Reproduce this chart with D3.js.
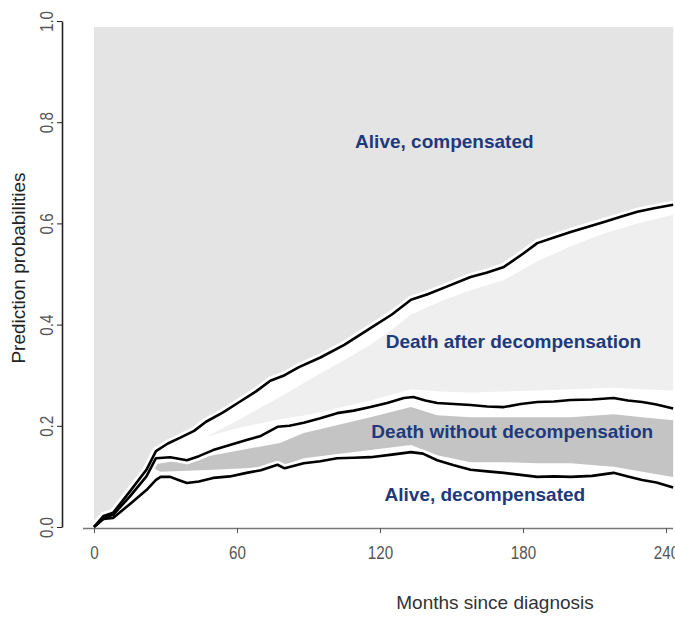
<!DOCTYPE html>
<html><head><meta charset="utf-8">
<script src="https://cdn.jsdelivr.net/npm/d3@7"></script>
<style>body{margin:0;background:#fff} svg{display:block}</style>
</head><body>
<script>
// ---- data (months since diagnosis, probability) ----
const xTicks = [0, 60, 120, 180, 240];
const yTicks = [0, 0.2, 0.4, 0.6, 0.8, 1.0];
const areaTop = 0.988;
const areaEnd = 243;

const upperLine = [[0,0],[4,0.022],[8,0.028],[15,0.07],[22,0.113],[26,0.15],[31,0.165],[36,0.176],[42,0.19],[47,0.208],[54,0.226],[61,0.247],[68,0.268],[74,0.289],[80,0.3],[86,0.316],[95,0.335],[105,0.36],[116,0.393],[125,0.42],[133,0.449],[140,0.46],[148,0.475],[158,0.494],[165,0.503],[172,0.514],[180,0.54],[186,0.561],[193,0.572],[200,0.583],[207,0.593],[214,0.603],[221,0.613],[228,0.623],[235,0.63],[243,0.637]];
const middleLine = [[0,0],[4,0.018],[8,0.024],[15,0.06],[22,0.1],[26,0.136],[32,0.138],[39,0.132],[44,0.14],[50,0.152],[57,0.162],[64,0.172],[70,0.18],[77,0.198],[82,0.2],[88,0.206],[95,0.215],[102,0.225],[109,0.23],[116,0.237],[123,0.245],[130,0.255],[134,0.257],[139,0.25],[144,0.245],[151,0.243],[158,0.241],[165,0.238],[172,0.237],[179,0.243],[186,0.247],[193,0.248],[200,0.251],[209,0.252],[218,0.255],[224,0.25],[230,0.247],[236,0.242],[243,0.234]];
const lowerLine = [[0,0],[4,0.016],[8,0.018],[15,0.045],[22,0.073],[26,0.093],[28,0.099],[32,0.099],[36,0.092],[39,0.087],[44,0.09],[50,0.097],[57,0.1],[64,0.107],[70,0.112],[77,0.123],[80,0.116],[88,0.126],[95,0.13],[102,0.136],[109,0.137],[116,0.138],[125,0.143],[133,0.148],[138,0.145],[144,0.132],[151,0.122],[158,0.113],[165,0.11],[172,0.107],[179,0.103],[186,0.099],[193,0.1],[200,0.099],[209,0.101],[218,0.107],[224,0.1],[230,0.093],[236,0.088],[243,0.078]];

const deathAfterUpper = [[47,0.178],[60,0.21],[78,0.257],[90,0.29],[105,0.33],[116,0.36],[125,0.39],[133,0.42],[145,0.445],[158,0.468],[172,0.488],[186,0.525],[200,0.555],[214,0.58],[228,0.6],[243,0.617]];
const deathAfterLower = [[47,0.178],[60,0.195],[78,0.213],[90,0.222],[105,0.238],[116,0.25],[125,0.262],[133,0.272],[145,0.268],[158,0.266],[172,0.268],[186,0.27],[200,0.272],[218,0.275],[230,0.272],[243,0.27]];
const deathWithoutUpper = [[23,0.12],[28,0.126],[50,0.142],[78,0.166],[88,0.186],[116,0.217],[133,0.237],[144,0.221],[158,0.217],[172,0.217],[186,0.217],[200,0.217],[218,0.223],[230,0.217],[243,0.211]];
const deathWithoutLower = [[23,0.12],[28,0.109],[50,0.113],[78,0.119],[88,0.136],[116,0.152],[133,0.162],[144,0.142],[158,0.128],[172,0.128],[186,0.126],[200,0.126],[218,0.119],[230,0.109],[243,0.099]];

const stateLabels = ["Alive, compensated", "Death after decompensation", "Death without decompensation", "Alive, decompensated"];
const labelAnchors = [[147,0.761],[176,0.366],[175.5,0.188],[164,0.065]];
const areaColors = ["#e4e4e4", "#efefef", "#c4c4c4"];

// ---- drawing ----
const W = 675, H = 619;
const FONT = "Liberation Sans, Arial, Helvetica, sans-serif";
const svg = d3.select("body").append("svg").attr("width", W).attr("height", H);
const x = d3.scaleLinear().domain([0, 240]).range([94, 666]);
const y = d3.scaleLinear().domain([0, 1]).range([527, 21]);
const line = d3.line().x(d => x(d[0])).y(d => y(d[1]));

function band(upper, lower) {
  const pts = upper.concat(lower.slice().reverse());
  return line(pts) + "Z";
}

svg.append("path")
  .attr("d", band([[0, areaTop], [areaEnd, areaTop]], upperLine))
  .attr("fill", areaColors[0]);
svg.append("path").attr("d", band(deathAfterUpper, deathAfterLower)).attr("fill", areaColors[1]);
svg.append("path").attr("d", band(deathWithoutUpper, deathWithoutLower)).attr("fill", areaColors[2]);

const curves = [upperLine, middleLine, lowerLine];
curves.forEach(c => {
  svg.append("path").attr("d", line(c)).attr("fill", "none")
    .attr("stroke", "#fff").attr("stroke-width", 8).attr("stroke-linejoin", "round");
});
curves.forEach(c => {
  svg.append("path").attr("d", line(c)).attr("fill", "none")
    .attr("stroke", "#000").attr("stroke-width", 2.6).attr("stroke-linejoin", "round");
});

// Y axis
const yAxis = d3.axisLeft(y).tickValues(yTicks).tickFormat(d3.format(".1f")).tickSize(5).tickSizeOuter(0);
const gy = svg.append("g").attr("transform", "translate(62,0)").call(yAxis);
gy.select(".domain").attr("stroke", "#222").attr("stroke-width", 1.6);
gy.selectAll(".tick line").attr("stroke", "#222");
gy.selectAll(".tick text")
  .attr("font-family", FONT).attr("font-size", 19).attr("fill", "#555")
  .attr("transform", "rotate(-90) scale(0.8,1)").attr("text-anchor", "middle")
  .attr("x", 0).attr("y", -9).attr("dy", "0");

// X axis
const xAxis = d3.axisBottom(x).tickValues(xTicks).tickSize(5).tickSizeOuter(0);
const gx = svg.append("g").attr("transform", "translate(0,528)").call(xAxis);
gx.select(".domain").attr("d", "M83,0.5H673").attr("stroke", "#777").attr("stroke-width", 1.6);
gx.selectAll(".tick line").attr("stroke", "#555");
gx.selectAll(".tick text")
  .attr("font-family", FONT).attr("font-size", 19).attr("fill", "#555")
  .attr("transform", "scale(0.8,1)")
  .attr("y", 31).attr("dy", "0");

// axis titles
svg.append("text").attr("x", 495).attr("y", 609).attr("text-anchor", "middle")
  .attr("font-family", FONT).attr("font-size", 19).attr("fill", "#333")
  .text("Months since diagnosis");
svg.append("text").attr("transform", "translate(25,268) rotate(-90)").attr("text-anchor", "middle")
  .attr("font-family", FONT).attr("font-size", 19).attr("fill", "#222")
  .text("Prediction probabilities");

// state labels
stateLabels.forEach((t, i) => {
  svg.append("text").attr("x", x(labelAnchors[i][0])).attr("y", y(labelAnchors[i][1]))
    .attr("text-anchor", "middle").attr("dominant-baseline", "central")
    .attr("font-family", FONT).attr("font-weight", "bold")
    .attr("font-size", 19).attr("fill", "#1e3a7b").text(t);
});
</script>
</body></html>
